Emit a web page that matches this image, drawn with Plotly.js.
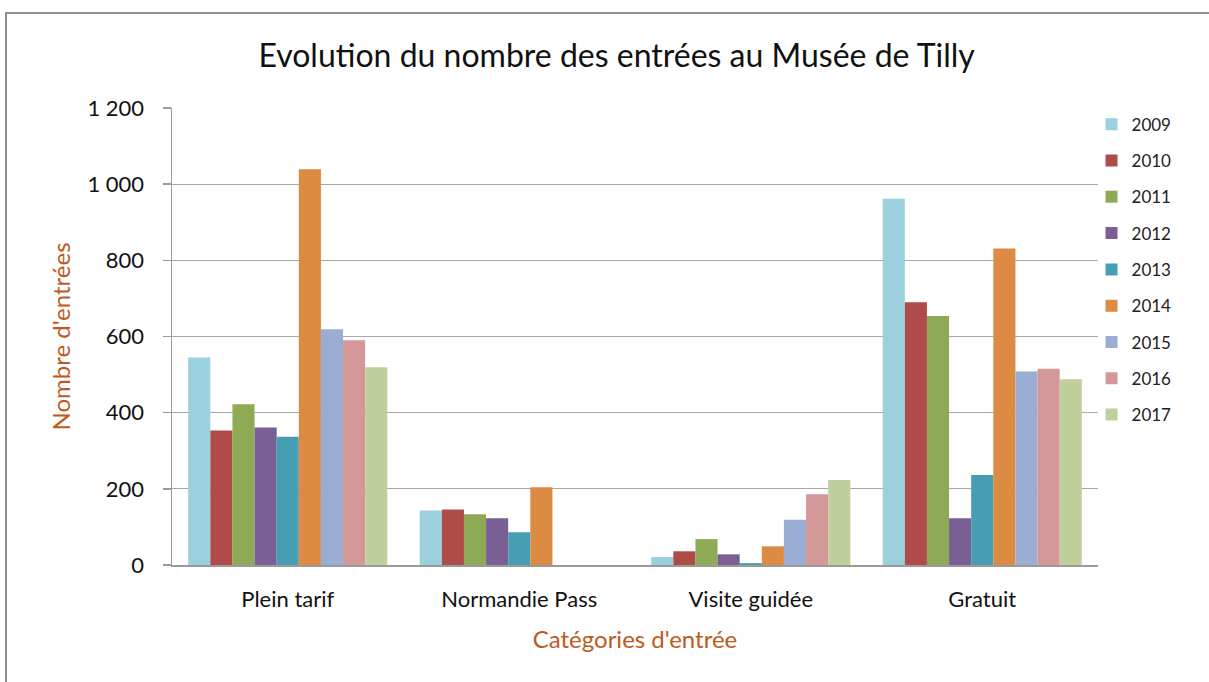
<!DOCTYPE html>
<html>
<head>
<meta charset="utf-8">
<script src="https://cdn.plot.ly/plotly-3.0.1.min.js"></script>
<style>
html,body{margin:0;padding:0;background:#fff;overflow:hidden;}
#frame{position:absolute;left:5px;top:12px;width:1300px;height:800px;border-left:2px solid #8e8e8e;border-top:2px solid #8e8e8e;box-sizing:border-box;pointer-events:none;z-index:5;}
#chart{position:absolute;left:0;top:0;width:1209px;height:682px;}
</style>
</head>
<body>
<div id="chart"></div>
<div id="frame"></div>
<script>
const categories = ["Plein tarif", "Normandie Pass", "Visite guidée", "Gratuit"];
const years = ["2009","2010","2011","2012","2013","2014","2015","2016","2017"];
const v2009 = [545, 143, 21, 962];
const v2010 = [353, 146, 36, 690];
const v2011 = [422, 133, 68, 654];
const v2012 = [361, 123, 28, 123];
const v2013 = [337, 86, 5, 236];
const v2014 = [1039, 204, 49, 831];
const v2015 = [619, null, 119, 508];
const v2016 = [590, null, 186, 515];
const v2017 = [519, null, 223, 488];
const seriesValues = [v2009, v2010, v2011, v2012, v2013, v2014, v2015, v2016, v2017];
const colors = ["#9BD0DF","#AF4C4A","#8FAA55","#7A5F95","#479DB4","#DD8A43","#9AAED4","#D49898","#BFD09D"];
const yTickVals = [0, 200, 400, 600, 800, 1000, 1200];
const yTickText = ["0", "200", "400", "600", "800", "1 000", "1 200"];

const traces = years.map((y, i) => ({
  type: "bar",
  name: y,
  legendgroup: y,
  x: categories,
  y: seriesValues[i],
  marker: {color: colors[i], line: {width: 0}},
  hoverinfo: "none"
}));

const layout = {
  width: 1209, height: 682,
  margin: {l: 172, r: 111, t: 108, b: 117},
  paper_bgcolor: "#fff",
  plot_bgcolor: "#fff",
  font: {family: "Lato, 'Open Sans', sans-serif", color: "#222"},
  title: {text: "Evolution du nombre des entrées au Musée de Tilly", x: 0.51, xanchor: "center", y: 0.918, yanchor: "middle",
          font: {size: 32, family: "Lato, 'Open Sans', sans-serif", color: "#111"}},
  barmode: "group",
  bargap: 0.14,
  bargroupgap: 0,
  xaxis: {
    range: [-0.5, 3.5],
    showline: true, linecolor: "#9a9a9a", linewidth: 1.5,
    ticks: "", showgrid: false,
    tickfont: {size: 22, color: "#111"},
    ticklabelstandoff: 14,
    title: {text: "Catégories d'entrée", standoff: 20, font: {size: 24, color: "#BE5A1E"}},
    fixedrange: true
  },
  yaxis: {
    range: [0, 1200],
    tickvals: yTickVals, ticktext: yTickText,
    showline: true, linecolor: "#9a9a9a", linewidth: 1.5,
    ticks: "outside", ticklen: 8, tickcolor: "#9a9a9a", tickwidth: 1.5,
    showgrid: true, gridcolor: "#a8a8a8", gridwidth: 1,
    zeroline: false,
    tickfont: {size: 22, color: "#111"},
    ticklabelstandoff: 14,
    title: {text: "Nombre d'entrées", standoff: 10, font: {size: 24, color: "#BE5A1E"}},
    fixedrange: true
  },
  legend: {
    x: 0.993, xanchor: "left", y: 1.003, yanchor: "top",
    font: {size: 17, color: "#222"},
    tracegroupgap: 11.2,
    itemwidth: 30,
    bgcolor: "rgba(0,0,0,0)"
  },
  showlegend: true
};

Plotly.newPlot("chart", traces, layout, {displayModeBar: false, staticPlot: true});
</script>
</body>
</html>
